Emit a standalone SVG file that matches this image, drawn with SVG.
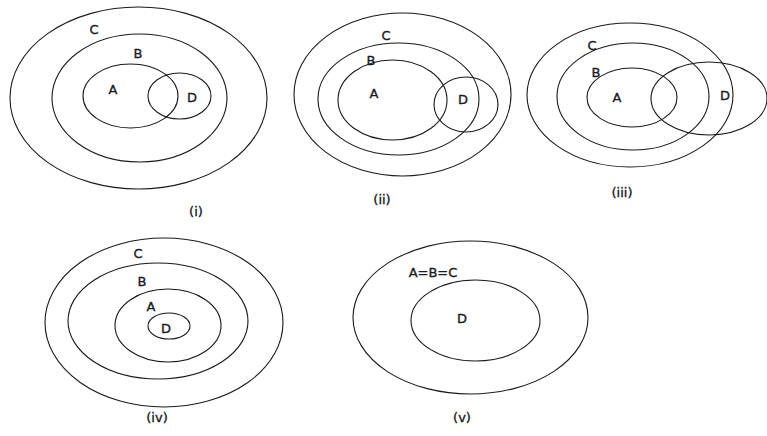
<svg xmlns="http://www.w3.org/2000/svg" width="767" height="436" viewBox="0 0 767 436">
<style>
ellipse{fill:none;stroke:#1a1a1a;stroke-width:1.1}
text{font-family:"DejaVu Sans","Liberation Sans",sans-serif;font-size:13px;fill:#1a1a24;stroke:#1a1a24;stroke-width:0.35;text-anchor:middle}
</style>
<rect width="767" height="436" fill="#fff"/>
<g id="diagram-i">
<ellipse cx="138.5" cy="98" rx="128.5" ry="91"/>
<ellipse cx="139.5" cy="98" rx="87.5" ry="64"/>
<ellipse cx="130.5" cy="96" rx="47.5" ry="32"/>
<ellipse cx="179.5" cy="96" rx="31.5" ry="23"/>
<text x="94" y="33.5">C</text>
<text x="138" y="57.5">B</text>
<text x="113" y="93.5">A</text>
<text x="192" y="101.5">D</text>
<text x="196" y="216">(i)</text>
</g>
<g id="diagram-ii">
<ellipse cx="402.5" cy="94.5" rx="108.5" ry="81.5"/>
<ellipse cx="398.5" cy="99" rx="80.5" ry="56"/>
<ellipse cx="392.5" cy="100" rx="54.5" ry="40"/>
<ellipse cx="466" cy="104.5" rx="32" ry="27.5"/>
<text x="386" y="39.5">C</text>
<text x="371" y="64.5">B</text>
<text x="374" y="97.5">A</text>
<text x="463" y="103.5">D</text>
<text x="382" y="204">(ii)</text>
</g>
<g id="diagram-iii">
<ellipse cx="630" cy="95" rx="103" ry="72"/>
<ellipse cx="633" cy="96.5" rx="76" ry="53.5"/>
<ellipse cx="632" cy="97.5" rx="45" ry="29.5"/>
<ellipse cx="709" cy="98.5" rx="58" ry="36.5"/>
<text x="592" y="49.5">C</text>
<text x="596" y="76.5">B</text>
<text x="617" y="101.5">A</text>
<text x="725" y="99.5">D</text>
<text x="622" y="197">(iii)</text>
</g>
<g id="diagram-iv">
<ellipse cx="164" cy="322.5" rx="119" ry="84.5"/>
<ellipse cx="158" cy="321" rx="90" ry="58"/>
<ellipse cx="168" cy="325.5" rx="53" ry="36.5"/>
<ellipse cx="169" cy="326" rx="21" ry="13"/>
<text x="138" y="257.5">C</text>
<text x="142" y="285.5">B</text>
<text x="151" y="310.5">A</text>
<text x="166" y="332.5">D</text>
<text x="157" y="422">(iv)</text>
</g>
<g id="diagram-v">
<ellipse cx="470.5" cy="317.5" rx="117.5" ry="76.5"/>
<ellipse cx="475.5" cy="320.5" rx="64.5" ry="40.5"/>
<text x="433" y="276.5">A=B=C</text>
<text x="462" y="322.5">D</text>
<text x="462" y="422">(v)</text>
</g>
<g id="connectors"/>
</svg>
